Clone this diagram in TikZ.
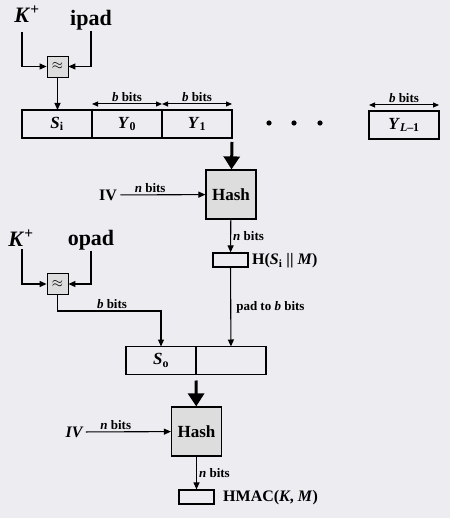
\documentclass[tikz,border=0pt]{standalone}
\usepackage{fontspec}
\setmainfont{Liberation Serif}
\usetikzlibrary{arrows.meta}
\newcommand{\bBits}{\textit{b} bits}
\newcommand{\nBits}{\textit{n} bits}
\newcommand{\keyPlus}{\textit{K}\textsuperscript{+}}
\definecolor{paper}{RGB}{237,236,241}
\definecolor{hashgray}{RGB}{221,221,221}

\begin{document}
\begin{tikzpicture}[x=1pt, y=-1pt,
   every node/.style={font=\bfseries},
   padtext/.style={font=\fontsize{22}{24}\selectfont\bfseries, inner sep=1pt},
   cell/.style={draw, line width=1.2pt, minimum width=70pt, minimum height=28pt,
      inner sep=0pt, outer sep=0pt, font=\fontsize{17}{19}\selectfont\bfseries},
   xorbox/.style={draw, line width=0.8pt, fill=hashgray, minimum size=21pt, inner sep=0pt,
      font=\fontsize{14}{16}\selectfont},
   hashbox/.style={draw, line width=1.2pt, fill=hashgray, minimum width=50pt,
      minimum height=49pt, font=\fontsize{17}{19}\selectfont\bfseries},
   outbox/.style={draw, line width=1.2pt, minimum width=35pt, minimum height=14pt, inner sep=0pt},
   note/.style={font=\fontsize{13}{15}\selectfont\bfseries, inner sep=2pt},
   outtext/.style={font=\fontsize{16}{18}\selectfont\bfseries, inner sep=0pt, anchor=west},
   flow/.style={-{Triangle[length=7pt,width=6pt]}, line width=1.1pt},
   bigflow/.style={-{Triangle[length=13pt,width=16pt]}, line width=3pt},
   span/.style={{Triangle[length=6pt,width=5pt]}-{Triangle[length=6pt,width=5pt]}, line width=1pt}]

   \fill[paper] (0,0) rectangle (450,518);

   % inner key
   \node[padtext] (keyi) at (27,14) {\keyPlus};
   \node[padtext] (ipad) at (91,20) {ipad};
   \node[xorbox] (xa) at (57.5,66.5) {$\approx$};
   \draw[flow] ([xshift=-5pt,yshift=-9pt]keyi.south) |- (xa);
   \draw[flow] (ipad.south) |- (xa);

   \node[cell] (si) at (57,124) {\textit{S}\textsubscript{i}};
   \node[cell] (yzero) at (127,124) {\textit{Y}\textsubscript{0}};
   \node[cell] (yone) at (197,124) {\textit{Y}\textsubscript{1}};
   \node[cell] (ylast) at (404,125) {\textit{Y}\textsubscript{\textit{L}–1}};
   \draw[flow] (xa) -- (xa |- si.north);
   \foreach \c in {yzero,yone,ylast}
      \draw[span] ([yshift=6pt]\c.north west) -- ([yshift=6pt]\c.north east)
         node[note, midway, above] {\bBits};
   \foreach \x in {269,294,320}
      \fill (\x,123) circle (2.6pt);

   \node[hashbox] (hashone) at (231,194.5) {Hash};
   \node[font=\fontsize{16}{18}\selectfont\bfseries] (ivone) at (108,195) {IV};
   \draw[bigflow] ([yshift=-4pt]yone.south east) -- (hashone);
   \draw[flow] (ivone) -- (hashone) node[note, above, pos=0.35] {\nBits};

   \node[outbox] (hin) at (230.5,260) {};
   \node[outtext] (hinlab) at (252,261) {H(\textit{S}\textsubscript{i} || \textit{M})};
   \draw[flow] (hashone) -- (hin) node[note, right, midway] {\nBits};

   % outer key
   \node[padtext] (keyii) at (21,238) {\keyPlus};
   \node[padtext] (opad) at (91,240) {opad};
   \node[xorbox] (xb) at (57.5,284) {$\approx$};
   \draw[flow] ([xshift=1pt,yshift=-2pt]keyii.south) |- (xb);
   \draw[flow] (opad.south) |- (xb);

   \node[cell] (so) at (161,360.5) {\textit{S}\textsubscript{o}};
   \node[cell] (sopad) at (231,360.5) {};
   \coordinate (bturn) at (112,311);
   \draw[flow] (xb) |- (bturn) node[note, above] {\bBits} -| (so);
   \draw[flow] (hin) -- (sopad) node[note, right, midway, inner sep=5pt] {pad to \textit{b} bits};

   \node[hashbox] (hashtwo) at (196.5,431.5) {Hash};
   \node[font=\fontsize{16}{18}\selectfont\bfseries\itshape] (ivtwo) at (74,432) {IV};
   \draw[bigflow] ([yshift=-6pt]so.south east) -- (hashtwo);
   \draw[flow] (ivtwo) -- (hashtwo) node[note, above, pos=0.35] {\nBits};

   \node[outbox] (hmacbox) at (196.5,497) {};
   \node[outtext] (hmaclab) at (223,498) {HMAC(\textit{K}, \textit{M})};
   \draw[flow] (hashtwo) -- (hmacbox) node[note, right, midway] {\nBits};
\end{tikzpicture}
\end{document}
